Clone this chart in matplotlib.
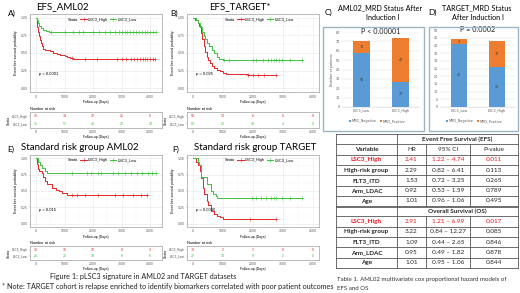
import numpy as np
import matplotlib
matplotlib.use('Agg')
import matplotlib.pyplot as plt
from matplotlib.lines import Line2D
from matplotlib.patches import Rectangle

W, H = 520, 293
RED = '#E3262A'
GREEN = '#3CC23C'
BLUE = '#5B9BD5'
ORANGE = '#ED7D31'
HEAD_FONT = ['Lato', 'DejaVu Sans']
KM_FONT = ['Liberation Sans', 'DejaVu Sans']

# ---- KM data ----
# A) EFS_AML02
a_high_t = [0, 20, 45, 70, 100, 130, 170, 210, 260, 320, 480, 600, 720, 850, 1000, 1100, 1200, 1300]
a_high_s = [1.0, 0.93, 0.86, 0.80, 0.74, 0.69, 0.64, 0.60, 0.56, 0.54, 0.53, 0.50, 0.48, 0.47, 0.46, 0.45, 0.43, 0.42]
a_high_cens = [1270, 1710, 2150, 2820, 3020, 3150, 3320, 3430, 3540, 3650, 3730, 3820, 3900, 3990, 4100, 4150]
a_low_t = [0, 30, 70, 120, 180, 260, 350, 450]
a_low_s = [1.0, 0.96, 0.92, 0.88, 0.85, 0.83, 0.81, 0.80]
a_low_cens = [520, 1000, 1300, 1500, 1650, 2000, 2200, 2400, 2600, 2750, 2900, 3000, 3100, 3200,
              3300, 3400, 3500, 3600, 3700, 3800, 3900, 4000, 4100, 4200]
a_risk_high = [75, 34, 27, 21, 5]
a_risk_low = [75, 57, 45, 27, 10]

# B) EFS_TARGET*
b_high_t = [0, 80, 150, 200, 250, 300, 350, 400, 450, 500, 560, 620, 700, 800, 900, 1000, 1100, 1840]
b_high_s = [1.0, 0.97, 0.93, 0.88, 0.78, 0.70, 0.60, 0.52, 0.45, 0.40, 0.36, 0.32, 0.29, 0.26, 0.24, 0.22, 0.21, 0.19]
b_high_cens = [1840, 2000, 2160, 2380, 2760]
b_low_t = [0, 100, 180, 240, 300, 350, 400, 450, 540, 620, 700, 800, 870, 1000]
b_low_s = [1.0, 0.97, 0.92, 0.87, 0.80, 0.74, 0.70, 0.64, 0.60, 0.54, 0.50, 0.45, 0.42, 0.40]
b_low_cens = [1030, 1200, 2000, 2110, 2320, 2490, 2600, 2700, 2760, 2870, 2970, 3240, 3620]
b_risk_high = [58, 13, 6, 0, 0]
b_risk_low = [59, 22, 19, 4, 0]

# E) Standard risk group AML02
e_high_t = [0, 30, 70, 110, 200, 250, 300, 400, 550, 700, 800, 900, 1100]
e_high_s = [1.0, 0.91, 0.84, 0.80, 0.78, 0.72, 0.66, 0.60, 0.55, 0.52, 0.50, 0.47, 0.44]
e_high_cens = [1270, 1430, 1710, 2160, 2770, 3040, 3380, 3660, 3880]
e_low_t = [0, 60, 130, 200, 300, 380]
e_low_s = [1.0, 0.95, 0.90, 0.85, 0.80, 0.77]
e_low_cens = [1270, 1770, 1930, 2160, 2270, 2710, 2880, 3100, 3320, 3540, 3710, 3910, 4070, 4200]
e_risk_high = [32, 15, 10, 8, 3]
e_risk_low = [26, 20, 18, 9, 6]

# F) Standard risk group TARGET
f_high_t = [0, 100, 150, 220, 280, 320, 380, 450, 500, 600, 700, 800, 900, 1000]
f_high_s = [1.0, 0.95, 0.90, 0.80, 0.70, 0.55, 0.45, 0.35, 0.28, 0.20, 0.15, 0.12, 0.10, 0.07]
f_high_cens = [1890, 2760]
f_low_t = [0, 150, 200, 270, 480, 600, 680, 750, 800]
f_low_s = [1.0, 0.95, 0.90, 0.71, 0.60, 0.50, 0.45, 0.42, 0.40]
f_low_cens = [1950, 2110, 2270, 2430, 2600, 2700, 2760, 2970, 3240, 3620]
f_risk_high = [30, 2, 1, 0, 0]
f_risk_low = [27, 10, 9, 2, 0]

risk_ticks = [0, 1000, 2000, 3000, 4000]

# ---- MRD bar data ----
mrd_groups = ['LSC3_Low', 'LSC3_High']
c_neg = [58, 27]
c_pos = [12, 47]
d_neg = [41, 26]
d_pos = [3, 17]

# ---- Cox table ----
variables = ['LSC3_High', 'High-risk group', 'FLT3_ITD', 'Arm_LDAC', 'Age']
efs_hr = ['2.41', '2.29', '1.53', '0.92', '1.01']
efs_ci = ['1.22 \u2013 4.74', '0.82 \u2013 6.41', '0.72 \u2013 3.25', '0.53 \u2013 1.59', '0.96 \u2013 1.06']
efs_p = ['0.011', '0.113', '0.265', '0.789', '0.495']
os_hr = ['2.91', '3.22', '1.09', '0.95', '1.01']
os_ci = ['1.21 \u2013 6.99', '0.84 \u2013 12.27', '0.44 \u2013 2.65', '0.49 \u2013 1.82', '0.95 \u2013 1.06']
os_p = ['0.017', '0.085', '0.846', '0.878', '0.844']

fig = plt.figure(figsize=(5.2, 2.93), dpi=100)
fig.patch.set_facecolor('white')


def px_axes(x0, y0, x1, y1):
    return fig.add_axes([x0 / W, 1 - y1 / H, (x1 - x0) / W, (y1 - y0) / H])


def ftext(x, y, s, **kw):
    fig.text(x / W, 1 - y / H, s, **kw)


def step_at(t, s, x):
    idx = np.searchsorted(t, x, side='right') - 1
    return np.asarray(s)[idx]


def draw_km(box, rbox, curves, xlim, pval, risks):
    ax = px_axes(*box)
    for t, s, cens, col in curves:
        end = max(cens[-1], t[-1])
        ax.step(list(t) + [end], list(s) + [s[-1]], where='post', color=col, lw=0.7)
        ax.plot(cens, step_at(np.array(t), s, np.array(cens)), ls='none', marker='+',
                color=col, ms=2.2, mew=0.4)
    ax.set_xlim(*xlim)
    ax.set_ylim(-0.05, 1.05)
    ax.set_xticks(risk_ticks)
    ax.set_xticks([500, 1500, 2500, 3500], minor=True)
    ax.set_yticks([0, 0.25, 0.5, 0.75, 1.0])
    ax.set_yticks([0.125, 0.375, 0.625, 0.875], minor=True)
    ax.set_yticklabels(['0.00', '0.25', '0.50', '0.75', '1.00'])
    ax.grid(which='major', color='#E6E6E6', lw=0.4)
    ax.grid(which='minor', color='#F3F3F3', lw=0.3)
    ax.set_axisbelow(True)
    for sp in ax.spines.values():
        sp.set_color('#B0B0B0')
        sp.set_linewidth(0.6)
    ax.tick_params(which='both', length=1, width=0.3, color='#999999', labelsize=2.2,
                   pad=0.8, labelcolor='#4D4D4D')
    ax.tick_params(which='minor', length=0)
    ax.set_xlabel('Follow-up (Days)', fontsize=2.4, labelpad=0.8, family=KM_FONT)
    ax.set_ylabel('Event free survival probability', fontsize=2.4, labelpad=1.5, family=KM_FONT)
    ax.text(0.07, 0.22, pval, transform=ax.transAxes, fontsize=3.0, family=KM_FONT)
    handles = [Line2D([], [], color='none', label='Strata'),
               Line2D([], [], color=RED, marker='+', ms=2.2, mew=0.4, lw=0.7, label='LSC3_High'),
               Line2D([], [], color=GREEN, marker='+', ms=2.2, mew=0.4, lw=0.7, label='LSC3_Low')]
    ax.legend(handles=handles, ncol=3, loc='upper center', bbox_to_anchor=(0.52, 0.99),
              frameon=False, handlelength=1.6, handletextpad=0.3,
              columnspacing=0.6, borderpad=0.2, prop={'family': KM_FONT, 'size': 2.8})

    rax = px_axes(*rbox)
    rax.set_xlim(*xlim)
    rax.set_ylim(0.4, 2.6)
    for row, (vals, col) in enumerate(zip(risks, [RED, GREEN])):
        for x, n in zip(risk_ticks, vals):
            rax.text(x, 2 - row, str(n), color=col, ha='center', va='center', fontsize=2.6,
                     family=KM_FONT)
    rax.set_yticks([2, 1])
    rax.set_yticklabels(['LSC3_High', 'LSC3_Low'])
    for lab, col in zip(rax.get_yticklabels(), [RED, GREEN]):
        lab.set_color(col)
    rax.set_xticks(risk_ticks)
    for sp in rax.spines.values():
        sp.set_color('#B0B0B0')
        sp.set_linewidth(0.6)
    rax.tick_params(length=1, width=0.3, color='#999999', labelsize=2.2, pad=0.6,
                    labelcolor='#4D4D4D')
    rax.set_xlabel('Follow-up (Days)', fontsize=2.4, labelpad=0.4, family=KM_FONT)
    rax.set_ylabel('Strata', fontsize=2.4, labelpad=1.0, family=KM_FONT)
    rax.set_title('Number at risk', loc='left', fontsize=2.8, pad=1.2, family=KM_FONT)


draw_km((30, 14, 162, 92), (30, 112, 162, 128),
        [(a_high_t, a_high_s, a_high_cens, RED), (a_low_t, a_low_s, a_low_cens, GREEN)],
        (-210, 4410), 'p < 0.0001', [a_risk_high, a_risk_low])
draw_km((187, 14, 319, 92), (187, 112, 319, 128),
        [(b_high_t, b_high_s, b_high_cens, RED), (b_low_t, b_low_s, b_low_cens, GREEN)],
        (-200, 4200), 'p = 0.025', [b_risk_high, b_risk_low])
draw_km((30, 155, 162, 227), (30, 246, 162, 260),
        [(e_high_t, e_high_s, e_high_cens, RED), (e_low_t, e_low_s, e_low_cens, GREEN)],
        (-210, 4410), 'p = 0.015', [e_risk_high, e_risk_low])
draw_km((187, 155, 319, 227), (187, 246, 319, 260),
        [(f_high_t, f_high_s, f_high_cens, RED), (f_low_t, f_low_s, f_low_cens, GREEN)],
        (-200, 4200), 'p = 0.0036', [f_risk_high, f_risk_low])

# panel titles
ftext(8, 13, 'A)', fontsize=6, va='center', family=HEAD_FONT)
ftext(62, 7, 'EFS_AML02', fontsize=7, ha='center', va='center', family=HEAD_FONT)
ftext(170, 13, 'B)', fontsize=6, va='center', family=HEAD_FONT)
ftext(240, 7, 'EFS_TARGET*', fontsize=7, ha='center', va='center', family=HEAD_FONT)
ftext(7, 149, 'E)', fontsize=6, va='center', family=HEAD_FONT)
ftext(80, 148, 'Standard risk group AML02', fontsize=7, ha='center', va='center', family=HEAD_FONT)
ftext(172, 149, 'F)', fontsize=6, va='center', family=HEAD_FONT)
ftext(255, 148, 'Standard risk group TARGET', fontsize=7, ha='center', va='center', family=HEAD_FONT)


# ---- MRD bar charts ----
def draw_mrd(frame, box, neg, pos, ymax, step, ptxt, show_ylabel):
    fig.patches.append(Rectangle((frame[0] / W, 1 - frame[3] / H), (frame[2] - frame[0]) / W,
                                 (frame[3] - frame[1]) / H, transform=fig.transFigure,
                                 fill=False, ec='#9DB3C6', lw=1.0))
    ax = px_axes(*box)
    x = np.arange(len(mrd_groups))
    ax.bar(x, neg, width=0.42, color=BLUE, label='MRD_Negative', zorder=2)
    ax.bar(x, pos, width=0.42, bottom=neg, color=ORANGE, label='MRD_Positive', zorder=2)
    for xi, n, p in zip(x, neg, pos):
        ax.text(xi, n / 2, str(n), ha='center', va='center', fontsize=2.4, color='#3A3A3A')
        ax.text(xi, n + p / 2, str(p), ha='center', va='center', fontsize=2.4, color='#3A3A3A')
    ax.set_xlim(-0.5, 1.5)
    ax.set_ylim(0, ymax)
    ax.set_yticks(np.arange(0, ymax + 1, step))
    ax.set_xticks(x)
    ax.set_xticklabels(mrd_groups)
    ax.yaxis.grid(True, color='#D9D9D9', lw=0.3)
    ax.set_axisbelow(True)
    for k in ['top', 'right', 'left']:
        ax.spines[k].set_visible(False)
    ax.spines['bottom'].set_color('#D9D9D9')
    ax.spines['bottom'].set_linewidth(0.4)
    ax.tick_params(length=0, labelsize=2.4, pad=1.2, labelcolor='#595959')
    if show_ylabel:
        ax.set_ylabel('Number of patients', fontsize=2.4, labelpad=1.5, color='#595959')
    ax.text(0.5, 1.0, ptxt, transform=ax.transAxes, ha='center', va='center', fontsize=5.2,
            family=HEAD_FONT, color='#222222')
    ax.legend(loc='upper center', bbox_to_anchor=(0.45, -0.12), ncol=2, frameon=False,
              fontsize=2.4, handlelength=0.7, handleheight=0.7, handletextpad=0.3,
              columnspacing=0.8, labelcolor='#595959')


draw_mrd((323, 27, 424, 131), (342, 32, 420, 107), c_neg, c_pos, 80, 10, 'P < 0.00001', True)
draw_mrd((429, 27, 518, 131), (440, 30, 516, 107), d_neg, d_pos, 50, 5, 'P = 0.0002', False)
ftext(325, 12, 'C)', fontsize=6, va='center', family=HEAD_FONT)
ftext(380, 8, 'AML02_MRD Status After', fontsize=5.2, ha='center', va='center', family=HEAD_FONT)
ftext(383, 18, 'Induction I', fontsize=5.2, ha='center', va='center', family=HEAD_FONT)
ftext(428, 12, 'D)', fontsize=6, va='center', family=HEAD_FONT)
ftext(477, 8, 'TARGET_MRD Status', fontsize=5.2, ha='center', va='center', family=HEAD_FONT)
ftext(478, 18, 'After Induction I', fontsize=5.2, ha='center', va='center', family=HEAD_FONT)

# ---- Cox table ----
tab = px_axes(334, 133, 519, 269)
tab.set_xlim(334, 519)
tab.set_ylim(269, 133)
tab.axis('off')
cols = [336, 397, 426, 470, 518]
rows = np.linspace(134, 268, 14)
LC = '#555555'
TXT = '#262626'
TRED = '#E8141B'
fs = 4.6
for i, y in enumerate(rows):
    tab.plot([cols[0], cols[-1]], [y, y], color=LC, lw=0.6)
tab.plot([cols[0], cols[-1]], [rows[7] + 0.9, rows[7] + 0.9], color=LC, lw=0.6)
for c in [cols[0], cols[1], cols[-1]]:
    tab.plot([c, c], [rows[0], rows[-1]], color=LC, lw=0.6)
for c in cols[2:4]:
    tab.plot([c, c], [rows[1], rows[7]], color=LC, lw=0.6)
    tab.plot([c, c], [rows[8], rows[13]], color=LC, lw=0.6)
mid = [(rows[i] + rows[i + 1]) / 2 for i in range(13)]
ccols = [(cols[i] + cols[i + 1]) / 2 for i in range(4)]
tab.text((cols[1] + cols[-1]) / 2, mid[0], 'Event Free Survival (EFS)', ha='center', va='center',
         fontsize=fs, weight='bold', color=TXT, family=HEAD_FONT)
tab.text(ccols[0], mid[1], 'Variable', ha='center', va='center', fontsize=fs, weight='bold',
         color=TXT, family=HEAD_FONT)
for cx, lab in zip(ccols[1:], ['HR', '95% CI', 'P-value']):
    tab.text(cx, mid[1], lab, ha='center', va='center', fontsize=fs, color=TXT, family=HEAD_FONT)
tab.text((cols[1] + cols[-1]) / 2, mid[7], 'Overall Survival (OS)', ha='center', va='center',
         fontsize=fs, weight='bold', color=TXT, family=HEAD_FONT)
for start, hr, ci, pv in [(2, efs_hr, efs_ci, efs_p), (8, os_hr, os_ci, os_p)]:
    for k, var in enumerate(variables):
        col = TRED if k == 0 else TXT
        y = mid[start + k]
        tab.text(ccols[0], y, var, ha='center', va='center', fontsize=fs, weight='bold', color=col,
                 family=HEAD_FONT)
        for cx, v in zip(ccols[1:], [hr[k], ci[k], pv[k]]):
            tab.text(cx, y, v, ha='center', va='center', fontsize=fs, color=col, family=HEAD_FONT)

# captions
ftext(143, 276, 'Figure 1: pLSC3 signature in AML02 and TARGET datasets', fontsize=5.2,
      ha='center', va='center', family=HEAD_FONT, color='#222222')
ftext(2, 286, '* Note: TARGET cohort is relapse enriched to identify biomarkers correlated with '
      'poor patient outcomes', fontsize=5.2, ha='left', va='center', family=HEAD_FONT, color='#222222')
ftext(337, 280, 'Table 1. AML02 multivariate cox proportional hazard models of', fontsize=4.4,
      ha='left', va='center', family=HEAD_FONT, color='#333333')
ftext(337, 289, 'EFS and OS', fontsize=4.4, ha='left', va='center', family=HEAD_FONT, color='#333333')

fig.savefig('out.png', dpi=100, facecolor='white')
